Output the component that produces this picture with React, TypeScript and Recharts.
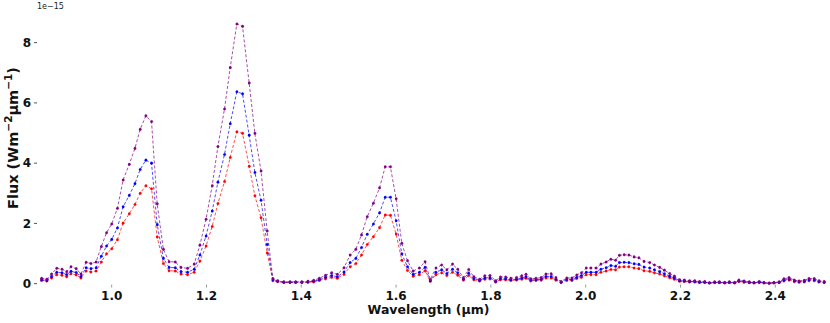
import React from "react";
import { LineChart, Line, XAxis, YAxis } from "recharts";

// wavelength in µm
const wavelengths = [
  0.852, 0.863, 0.873, 0.884, 0.895, 0.905, 0.914, 0.925, 0.935, 0.946,
  0.956, 0.967, 0.978, 0.989, 1.0, 1.012, 1.024, 1.037, 1.049, 1.06,
  1.072, 1.084, 1.096, 1.109, 1.121, 1.134, 1.146, 1.16, 1.174, 1.186,
  1.199, 1.212, 1.224, 1.238, 1.25, 1.264, 1.276, 1.29, 1.302, 1.315,
  1.328, 1.34, 1.35, 1.363, 1.376, 1.388, 1.401, 1.414, 1.426, 1.438,
  1.451, 1.464, 1.476, 1.49, 1.503, 1.515, 1.527, 1.539, 1.552, 1.565,
  1.577, 1.588, 1.6, 1.612, 1.624, 1.636, 1.649, 1.661, 1.672, 1.684,
  1.696, 1.707, 1.719, 1.73, 1.742, 1.753, 1.764, 1.776, 1.787, 1.798,
  1.81, 1.82, 1.831, 1.842, 1.854, 1.865, 1.874, 1.884, 1.895, 1.906,
  1.916, 1.927, 1.937, 1.948, 1.96, 1.971, 1.981, 1.991, 2.001, 2.011,
  2.022, 2.032, 2.043, 2.053, 2.063, 2.071, 2.081, 2.091, 2.102, 2.112,
  2.123, 2.135, 2.145, 2.156, 2.166, 2.177, 2.187, 2.198, 2.208, 2.219,
  2.23, 2.24, 2.251, 2.261, 2.272, 2.282, 2.293, 2.303, 2.314, 2.323,
  2.334, 2.345, 2.355, 2.366, 2.376, 2.387, 2.397, 2.408, 2.418, 2.429,
  2.44, 2.45, 2.461, 2.471, 2.482, 2.492, 2.503,
];

// flux, units of 1e-15 W m^-2 µm^-1
const purpleFlux = [
  0.18, 0.15, 0.32, 0.51, 0.48, 0.4, 0.56, 0.5, 0.32, 0.71,
  0.67, 0.72, 1.23, 1.69, 1.98, 2.5, 3.44, 3.96, 4.49, 5.12,
  5.57, 5.38, 2.65, 1.14, 0.73, 0.72, 0.54, 0.51, 0.65, 1.28,
  2.14, 3.25, 4.55, 5.8, 7.17, 8.62, 8.54, 6.66, 4.99, 3.74,
  1.75, 0.17, 0.1, 0.06, 0.06, 0.06, 0.06, 0.08, 0.11, 0.18,
  0.28, 0.36, 0.31, 0.53, 0.95, 1.14, 1.62, 2.22, 2.67, 3.18,
  3.88, 3.88, 2.82, 1.34, 0.76, 0.42, 0.52, 0.73, 0.14, 0.52,
  0.62, 0.46, 0.65, 0.48, 0.2, 0.47, 0.23, 0.15, 0.26, 0.27,
  0.1, 0.22, 0.22, 0.18, 0.2, 0.26, 0.31, 0.16, 0.18, 0.2,
  0.32, 0.33, 0.2, 0.07, 0.19, 0.19, 0.29, 0.36, 0.52, 0.52,
  0.52, 0.65, 0.72, 0.81, 0.78, 0.94, 0.96, 0.95, 0.89, 0.86,
  0.74, 0.7, 0.62, 0.54, 0.45, 0.34, 0.25, 0.13, 0.12, 0.1,
  0.1, 0.07, 0.07, 0.03, 0.06, 0.06, 0.04, 0.06, 0.04, 0.12,
  0.09, 0.06, 0.04, 0.07, 0.04, 0.02, 0.04, 0.06, 0.16, 0.2,
  0.12, 0.09, 0.11, 0.17, 0.17, 0.1, 0.07,
];

const blueFlux = [
  0.13, 0.11, 0.24, 0.38, 0.36, 0.3, 0.41, 0.37, 0.24, 0.53,
  0.5, 0.53, 0.91, 1.25, 1.47, 1.85, 2.55, 2.93, 3.32, 3.79,
  4.1, 4.0, 1.96, 0.84, 0.54, 0.53, 0.4, 0.38, 0.48, 0.95,
  1.58, 2.41, 3.37, 4.29, 5.31, 6.37, 6.3, 4.93, 3.69, 2.77,
  1.3, 0.13, 0.08, 0.05, 0.05, 0.05, 0.05, 0.06, 0.08, 0.13,
  0.21, 0.27, 0.23, 0.39, 0.7, 0.84, 1.2, 1.64, 1.98, 2.35,
  2.87, 2.87, 2.09, 0.99, 0.56, 0.31, 0.38, 0.54, 0.1, 0.38,
  0.46, 0.34, 0.48, 0.36, 0.15, 0.35, 0.17, 0.11, 0.19, 0.2,
  0.07, 0.16, 0.16, 0.13, 0.15, 0.19, 0.23, 0.12, 0.13, 0.15,
  0.24, 0.24, 0.15, 0.05, 0.14, 0.14, 0.21, 0.27, 0.38, 0.38,
  0.38, 0.48, 0.53, 0.6, 0.58, 0.7, 0.71, 0.7, 0.66, 0.64,
  0.55, 0.52, 0.46, 0.4, 0.33, 0.25, 0.19, 0.1, 0.09, 0.07,
  0.07, 0.05, 0.05, 0.02, 0.04, 0.04, 0.03, 0.04, 0.03, 0.09,
  0.07, 0.04, 0.03, 0.05, 0.03, 0.01, 0.03, 0.04, 0.12, 0.15,
  0.09, 0.07, 0.08, 0.13, 0.13, 0.07, 0.05,
];

const redFlux = [
  0.11, 0.09, 0.19, 0.3, 0.28, 0.23, 0.33, 0.29, 0.19, 0.42,
  0.39, 0.42, 0.72, 0.99, 1.16, 1.46, 2.01, 2.32, 2.63, 3.0,
  3.25, 3.15, 1.55, 0.67, 0.43, 0.42, 0.32, 0.3, 0.38, 0.75,
  1.25, 1.9, 2.66, 3.39, 4.19, 5.04, 4.99, 3.9, 2.92, 2.19,
  1.02, 0.1, 0.07, 0.04, 0.04, 0.04, 0.04, 0.05, 0.06, 0.11,
  0.16, 0.21, 0.18, 0.31, 0.56, 0.67, 0.95, 1.3, 1.56, 1.86,
  2.28, 2.27, 1.65, 0.78, 0.44, 0.25, 0.3, 0.43, 0.08, 0.3,
  0.36, 0.27, 0.38, 0.28, 0.12, 0.27, 0.13, 0.09, 0.15, 0.16,
  0.06, 0.13, 0.13, 0.11, 0.12, 0.15, 0.18, 0.09, 0.11, 0.12,
  0.19, 0.19, 0.12, 0.04, 0.11, 0.11, 0.17, 0.21, 0.3, 0.3,
  0.3, 0.38, 0.42, 0.47, 0.46, 0.55, 0.56, 0.56, 0.52, 0.5,
  0.43, 0.41, 0.36, 0.32, 0.26, 0.2, 0.15, 0.08, 0.07, 0.06,
  0.06, 0.04, 0.04, 0.02, 0.04, 0.04, 0.02, 0.04, 0.02, 0.07,
  0.05, 0.04, 0.02, 0.04, 0.02, 0.01, 0.02, 0.04, 0.09, 0.12,
  0.07, 0.05, 0.06, 0.1, 0.1, 0.06, 0.04,
];

const xTicks = [1.0, 1.2, 1.4, 1.6, 1.8, 2.0, 2.2, 2.4];
const yTicks = [0, 2, 4, 6, 8];

const FONT = "'DejaVu Sans', sans-serif";

const data = wavelengths.map((wl, i) => ({
  wl,
  red: redFlux[i],
  blue: blueFlux[i],
  purple: purpleFlux[i],
}));

const tickStyle = { fill: "#111", fontSize: 12, fontWeight: 700, fontFamily: FONT };

function series(key: string, color: string) {
  return (
    <Line
      type="linear"
      dataKey={key}
      stroke={color}
      strokeWidth={1}
      strokeOpacity={0.7}
      strokeDasharray="3 2"
      dot={{ r: 1.3, fill: color, stroke: color, strokeWidth: 0.5 }}
      activeDot={false}
      isAnimationActive={false}
    />
  );
}

export default function App() {
  return (
    <div style={{ position: "absolute", left: 0, top: 0, width: 830, height: 323, background: "#fff" }}>
      <LineChart width={830} height={323} data={data} margin={{ top: 12.5, right: 4, bottom: 8.4, left: 7 }}>
        <XAxis
          dataKey="wl"
          type="number"
          domain={[0.8424, 2.507]}
          allowDataOverflow
          ticks={xTicks}
          tickFormatter={(v: number) => v.toFixed(1)}
          axisLine={false}
          tickLine={{ stroke: "#999" }}
          tickSize={3}
          tickMargin={3.5}
          height={30}
          tick={tickStyle}
        />
        <YAxis
          type="number"
          domain={[-0.03, 9.0]}
          allowDataOverflow
          ticks={yTicks}
          axisLine={false}
          tickLine={{ stroke: "#555" }}
          tickSize={3}
          tickMargin={3}
          width={30}
          tick={tickStyle}
        />
        {series("red", "#ff0000")}
        {series("blue", "#0000ff")}
        {series("purple", "#800080")}
      </LineChart>
      <svg
        width={830}
        height={323}
        style={{ position: "absolute", left: 0, top: 0, pointerEvents: "none" }}
      >
        <text x={37} y={9} fontSize={8} fontFamily={FONT} fill="#222">
          1e−15
        </text>
        <text x={428.5} y={314} textAnchor="middle" fontSize={12.5} fontWeight={700} fontFamily={FONT} fill="#111">
          Wavelength (µm)
        </text>
        <text
          transform="translate(17.5,138) rotate(-90)"
          textAnchor="middle"
          fontSize={14.5}
          fontWeight={700}
          fontFamily={FONT}
          fill="#111"
        >
          Flux (Wm
          <tspan dy={-6} fontSize={10.5}>−2</tspan>
          <tspan dy={6}>µm</tspan>
          <tspan dy={-6} fontSize={10.5}>−1</tspan>
          <tspan dy={6}>)</tspan>
        </text>
      </svg>
    </div>
  );
}
